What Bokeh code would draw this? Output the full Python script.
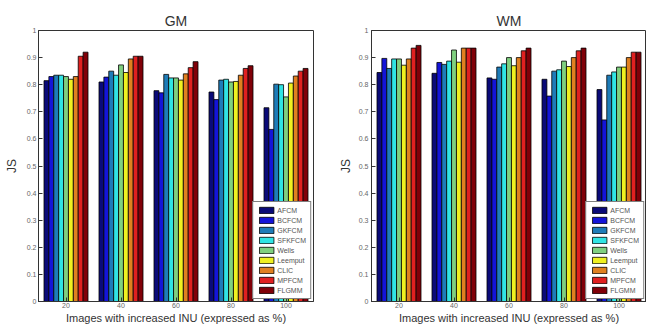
from bokeh.plotting import figure
from bokeh.models import ColumnDataSource, FactorRange, Range1d, CustomJSTickFormatter, FixedTicker
from bokeh.transform import dodge
from bokeh.layouts import row
from bokeh.embed import file_html
from bokeh.resources import INLINE

groups = ["20", "40", "60", "80", "100"]
methods = ["AFCM", "BCFCM", "GKFCM", "SFKFCM", "Wells", "Leemput", "CLIC", "MPFCM", "FLGMM"]
colors = ["#0a0a78", "#1414d8", "#1e7cb8", "#30e4e4", "#80d080", "#f0f020", "#e08020", "#e02020", "#800008"]

# values per method, across groups 20..100
gm_values = [
    [0.815, 0.810, 0.778, 0.773, 0.715],  # AFCM
    [0.830, 0.828, 0.770, 0.745, 0.635],  # BCFCM
    [0.835, 0.850, 0.838, 0.817, 0.802],  # GKFCM
    [0.835, 0.835, 0.825, 0.820, 0.800],  # SFKFCM
    [0.830, 0.873, 0.825, 0.810, 0.755],  # Wells
    [0.820, 0.845, 0.817, 0.812, 0.806],  # Leemput
    [0.830, 0.895, 0.840, 0.835, 0.832],  # CLIC
    [0.905, 0.905, 0.863, 0.860, 0.850],  # MPFCM
    [0.920, 0.905, 0.885, 0.870, 0.860],  # FLGMM
]
wm_values = [
    [0.845, 0.842, 0.825, 0.820, 0.782],  # AFCM
    [0.897, 0.882, 0.820, 0.758, 0.670],  # BCFCM
    [0.860, 0.875, 0.865, 0.850, 0.835],  # GKFCM
    [0.895, 0.887, 0.877, 0.855, 0.847],  # SFKFCM
    [0.895, 0.928, 0.900, 0.887, 0.865],  # Wells
    [0.872, 0.883, 0.870, 0.867, 0.865],  # Leemput
    [0.895, 0.935, 0.900, 0.900, 0.900],  # CLIC
    [0.935, 0.935, 0.925, 0.925, 0.920],  # MPFCM
    [0.945, 0.935, 0.935, 0.935, 0.920],  # FLGMM
]
y_ticks = [0, 0.1, 0.2, 0.3, 0.4, 0.5, 0.6, 0.7, 0.8, 0.9, 1.0]

FONT = "Liberation Sans"
TXT = "#333333"
LINE = "#333333"


def make_plot(title, values, width, border_left, border_right, label_standoff, tick_standoff):
    p = figure(width=width, height=327, x_range=FactorRange(*groups, range_padding=0.0),
               y_range=Range1d(0, 1), output_backend="svg", toolbar_location=None,
               min_border_left=border_left, min_border_right=border_right,
               min_border_top=30, min_border_bottom=26)
    p.xgrid.visible = False
    p.ygrid.visible = False
    p.outline_line_color = LINE
    p.outline_line_width = 1

    src = {"g": groups}
    for i, m in enumerate(methods):
        src[m] = values[i]
    source = ColumnDataSource(src)
    w = 0.8 / len(methods)
    for i, m in enumerate(methods):
        off = (i - (len(methods) - 1) / 2) * w
        p.vbar(x=dodge("g", off, range=p.x_range), top=m, width=w, source=source,
               fill_color=colors[i], line_color="#000000", line_width=0.8, legend_label=m)

    p.title.text = title
    p.title.align = "center"
    p.title.text_font = FONT
    p.title.text_font_size = "14px"
    p.title.text_font_style = "normal"
    p.title.text_color = TXT
    p.title.standoff = 4

    xa = p.below[0]
    ya = p.left[0]
    ya.ticker = FixedTicker(ticks=y_ticks)
    ya.formatter = CustomJSTickFormatter(code="return String(Math.round(tick*10)/10);")
    for ax in (xa, ya):
        ax.major_tick_in = 4
        ax.major_tick_out = 0
        ax.minor_tick_in = 0
        ax.minor_tick_out = 0
        ax.axis_line_color = LINE
        ax.major_tick_line_color = LINE
        ax.major_label_text_font = FONT
        ax.major_label_text_font_size = "7px"
        ax.major_label_text_color = "#666666"
        ax.axis_label_text_font = FONT
        ax.axis_label_text_font_style = "normal"
        ax.axis_label_text_color = TXT
    xa.major_label_standoff = 1
    ya.major_label_standoff = tick_standoff
    xa.axis_label = "Images with increased INU (expressed as %)"
    xa.axis_label_text_font_size = "11px"
    xa.axis_label_standoff = 1
    ya.axis_label = "JS"
    ya.axis_label_text_font_size = "12px"
    ya.axis_label_standoff = label_standoff

    lg = p.legend[0]
    lg.location = "bottom_right"
    lg.margin = 2
    lg.padding = 4
    lg.spacing = 2
    lg.glyph_width = 18
    lg.glyph_height = 8
    lg.label_height = 8
    lg.label_standoff = 2
    lg.label_text_font = FONT
    lg.label_text_font_size = "7px"
    lg.label_text_color = "#555555"
    lg.border_line_color = "#000000"
    lg.border_line_width = 1
    lg.background_fill_alpha = 1
    return p


p1 = make_plot("GM", gm_values, 323, 38, 10, 5, 2)
p2 = make_plot("WM", wm_values, 323, 48, 0, 3, 3)
layout = row(p1, p2, spacing=0)

open("out.html", "w").write(file_html(layout, INLINE))
